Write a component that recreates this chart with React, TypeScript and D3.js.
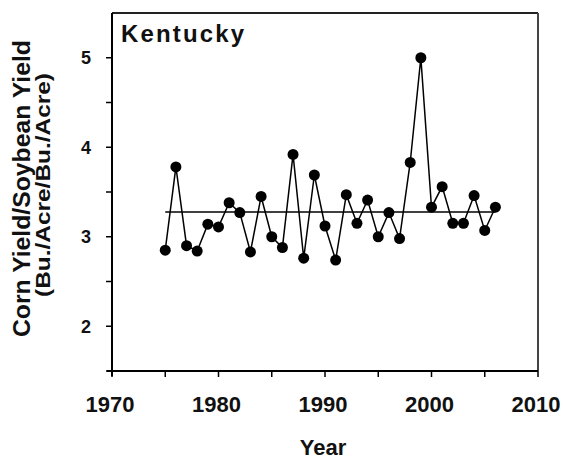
import React from "react";
import * as d3 from "d3";

const years = [1975,1976,1977,1978,1979,1980,1981,1982,1983,1984,1985,1986,1987,1988,1989,1990,1991,1992,1993,1994,1995,1996,1997,1998,1999,2000,2001,2002,2003,2004,2005,2006];
const ratios = [2.85,3.78,2.90,2.84,3.14,3.11,3.38,3.27,2.83,3.45,3.00,2.88,3.92,2.76,3.69,3.12,2.74,3.47,3.15,3.41,3.00,3.27,2.98,3.83,5.00,3.33,3.56,3.15,3.15,3.46,3.07,3.33];
const xMajorTicks = [1970,1980,1990,2000,2010];
const xMinorTicks = [1975,1985,1995,2005];
const yMajorTicks = [2,3,4,5];
const yMinorTicks = [1.5,2.5,3.5,4.5];
const title = "Kentucky";
const xTitle = "Year";
const yTitle1 = "Corn Yield/Soybean Yield";
const yTitle2 = "(Bu./Acre/Bu./Acre)";

export default function App() {
  const W = 563, H = 459;
  const left = 112, right = 538, top = 13, bottom = 371;
  const x = d3.scaleLinear().domain([1970, 2010]).range([left, right]);
  const y = d3.scaleLinear().domain([1.5, 5.5]).range([bottom, top]);
  const pts = years.map((yr, i) => [yr, ratios[i]] as [number, number]);
  const line = d3.line<[number, number]>().x(d => x(d[0])).y(d => y(d[1]));
  const mean = d3.mean(ratios) as number;
  const font = "Arial, 'Liberation Sans', sans-serif";
  return (
    <svg width={W} height={H} style={{ position: "absolute", left: 0, top: 0, background: "#fff" }}>
      <rect x={0} y={0} width={W} height={H} fill="#fff" />
      {/* frame */}
      <line x1={left} x2={right} y1={top} y2={top} stroke="#222" strokeWidth={2} />
      <line x1={right} x2={right} y1={top} y2={bottom} stroke="#444" strokeWidth={2} />
      <line x1={left} x2={left} y1={top} y2={bottom + 5} stroke="#000" strokeWidth={2} />
      <line x1={left - 5} x2={right} y1={bottom} y2={bottom} stroke="#000" strokeWidth={2} />
      {yMajorTicks.concat(yMinorTicks).map(t => (
        <line key={"yt" + t} x1={left - 6} x2={left} y1={y(t)} y2={y(t)} stroke="#000" strokeWidth={1.5} />
      ))}
      {xMajorTicks.concat(xMinorTicks).map(t => (
        <line key={"xt" + t} x1={x(t)} x2={x(t)} y1={bottom} y2={bottom + 6} stroke="#000" strokeWidth={1.5} />
      ))}
      {yMajorTicks.map(t => (
        <text key={"yl" + t} x={91} y={y(t) + 6.5} textAnchor="end" fontFamily={font} fontWeight="bold" fontSize={18} fill="#111">{t}</text>
      ))}
      {xMajorTicks.map(t => (
        <text key={"xl" + t} x={x(t) - 2} y={411.5} textAnchor="middle" fontFamily={font} fontWeight="bold" fontSize={22} fill="#111">{t}</text>
      ))}
      <text x={323} y={455} textAnchor="middle" fontFamily={font} fontWeight="bold" fontSize={22} fill="#111">{xTitle}</text>
      <text transform="translate(30,188.5) rotate(-90)" textAnchor="middle" fontFamily={font} fontWeight="bold" fontSize={23.5} fill="#111" textLength={297} lengthAdjust="spacingAndGlyphs">{yTitle1}</text>
      <text transform="translate(50,185) rotate(-90)" textAnchor="middle" fontFamily={font} fontWeight="bold" fontSize={21} fill="#111" textLength={224} lengthAdjust="spacingAndGlyphs">{yTitle2}</text>
      <text x={121} y={41.7} fontFamily={font} fontWeight="bold" fontSize={24} fill="#111" textLength={123} lengthAdjust="spacing">{title}</text>
      {/* mean line */}
      <line x1={x(years[0])} x2={x(years[years.length - 1])} y1={y(mean)} y2={y(mean)} stroke="#000" strokeWidth={1.5} />
      <path d={line(pts) || ""} fill="none" stroke="#000" strokeWidth={1.5} />
      {pts.map(d => (
        <circle key={d[0]} cx={x(d[0])} cy={y(d[1])} r={5.5} fill="#000" />
      ))}
    </svg>
  );
}
